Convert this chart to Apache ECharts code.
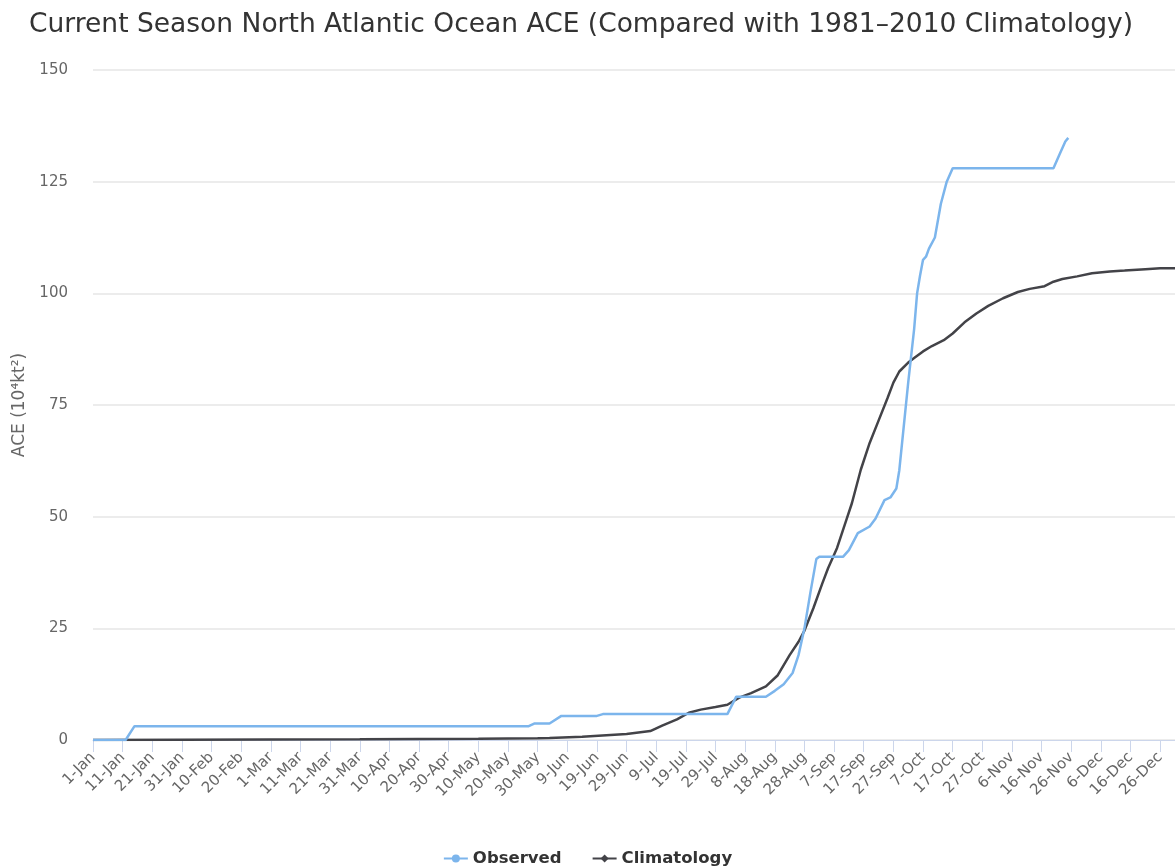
<!DOCTYPE html>
<html>
<head>
<meta charset="utf-8">
<script src="https://cdn.jsdelivr.net/npm/echarts@6/dist/echarts.min.js"></script>
<style>
  html, body { margin: 0; padding: 0; background: #fff; }
  #chart { width: 1175px; height: 867px; }
</style>
</head>
<body>
<div id="chart"></div>
<script>
// Day-of-year categories for a leap season (1-Jan .. 31-Dec)
const monthNames = ["Jan", "Feb", "Mar", "Apr", "May", "Jun", "Jul", "Aug", "Sep", "Oct", "Nov", "Dec"];
const monthLengths = [31, 29, 31, 30, 31, 30, 31, 31, 30, 31, 30, 31];
const days = [];
monthLengths.forEach((len, m) => {
  for (let d = 1; d <= len; d++) days.push(`${d}-${monthNames[m]}`);
});

// Observed ACE (day index, value)
const observedDays = [0, 11, 14, 147, 149, 154, 158, 170, 172, 214, 217, 227, 230, 233, 236, 238, 240, 242, 244, 245, 253, 255, 258, 262, 264, 267, 269, 271, 272, 275, 277, 278, 279, 280, 281, 282, 284, 286, 288, 290, 324, 326, 328, 329];
const observedValues = [0, 0, 3.1, 3.1, 3.7, 3.7, 5.4, 5.4, 5.8, 5.8, 9.7, 9.7, 11, 12.5, 15, 19, 25, 33, 40.5, 41, 41, 42.5, 46.3, 47.8, 49.6, 53.7, 54.3, 56.3, 60.4, 80, 92, 100, 104, 107.5, 108.2, 110, 112.5, 120, 125, 128, 128, 131, 134, 134.8];

// 1981-2010 climatology (day index, value)
const climDays = [0, 30, 60, 90, 110, 130, 150, 154, 165, 180, 188, 192, 197, 201, 205, 210, 214, 218, 222, 227, 231, 235, 238, 240, 243, 246, 248, 251, 254, 256, 259, 262, 265, 268, 270, 272, 275, 277, 280, 283, 287, 290, 294, 298, 302, 307, 312, 316, 321, 324, 327, 332, 337, 343, 348, 355, 360, 365];
const climValues = [0, 0.05, 0.1, 0.15, 0.25, 0.3, 0.4, 0.45, 0.75, 1.35, 2.0, 3.2, 4.6, 6.1, 6.8, 7.4, 7.9, 9.5, 10.5, 12, 14.5, 19, 22, 24.5, 29.5, 35, 38.5, 43, 49, 53, 60.5, 66.5, 71.5, 76.5, 80, 82.5, 84.5, 85.5, 87, 88.2, 89.5, 91, 93.5, 95.5, 97.2, 98.9, 100.3, 101, 101.6, 102.6, 103.2, 103.8, 104.5, 104.9, 105.1, 105.4, 105.6, 105.6];

const chart = echarts.init(document.getElementById("chart"));

const option = {
  animation: false,
  title: {
    text: "Current Season North Atlantic Ocean ACE (Compared with 1981\u20132010 Climatology)",
    left: 24,
    top: 7,
    textStyle: {
      fontFamily: "DejaVu Sans",
      fontSize: 26.5,
      fontWeight: "normal",
      color: "#333333",
    },
  },
  grid: { left: 93, right: 0, top: 70, bottom: 127 },
  legend: {
    top: 845,
    left: "center",
    itemGap: 30,
    itemWidth: 24,
    itemHeight: 10,
    textStyle: {
      fontFamily: "DejaVu Sans",
      fontSize: 16.5,
      fontWeight: "bold",
      color: "#333333",
    },
    data: ["Observed", "Climatology"],
  },
  xAxis: {
    type: "category",
    data: days,
    boundaryGap: false,
    axisLine: { lineStyle: { color: "#ccd6eb" } },
    axisTick: { interval: 9, length: 12, lineStyle: { color: "#ccd6eb" } },
    axisLabel: {
      interval: 9,
      rotate: 45,
      margin: 15,
      color: "#666666",
      fontFamily: "DejaVu Sans",
      fontSize: 15,
    },
    splitLine: { show: false },
  },
  yAxis: {
    type: "value",
    min: 0,
    max: 150,
    interval: 25,
    name: "ACE (10\u2074kt\u00b2)",
    nameLocation: "middle",
    nameGap: 63,
    nameTextStyle: { color: "#666666", fontFamily: "DejaVu Sans", fontSize: 17 },
    axisLine: { show: false },
    axisTick: { show: false },
    axisLabel: { color: "#666666", fontFamily: "DejaVu Sans", fontSize: 15, margin: 25 },
    splitLine: { lineStyle: { color: "#e6e6e6", width: 1.5 } },
  },
  series: [
    {
      name: "Observed",
      type: "line",
      data: observedDays.map((d, i) => [d, observedValues[i]]),
      symbol: "circle",
      symbolSize: 9,
      showSymbol: false,
      itemStyle: { color: "#7cb5ec" },
      lineStyle: { color: "#7cb5ec", width: 2.5 },
      z: 3,
    },
    {
      name: "Climatology",
      type: "line",
      data: climDays.map((d, i) => [d, climValues[i]]),
      symbol: "diamond",
      symbolSize: 10,
      showSymbol: false,
      itemStyle: { color: "#434348" },
      lineStyle: { color: "#434348", width: 2.5 },
      z: 2,
    },
  ],
};

chart.setOption(option);
</script>
</body>
</html>
